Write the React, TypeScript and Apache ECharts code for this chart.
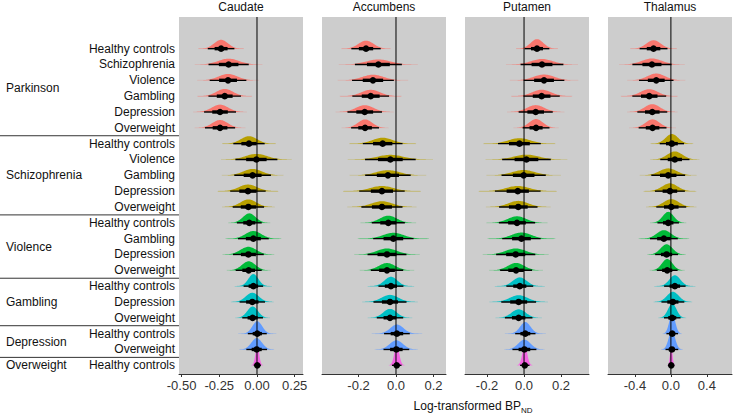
import React, { useEffect, useRef } from "react";
import * as echarts from "echarts";

const regions = ["Caudate", "Accumbens", "Putamen", "Thalamus"];
const groups = ["Parkinson", "Schizophrenia", "Violence", "Gambling", "Depression", "Overweight"];
const groupColors = ["#F8766D", "#B79F00", "#00BA38", "#00BFC4", "#619CFF", "#F564E3"];
const comparisons = [
  "Healthy controls", "Schizophrenia", "Violence", "Gambling", "Depression", "Overweight",
  "Healthy controls", "Violence", "Gambling", "Depression", "Overweight",
  "Healthy controls", "Gambling", "Depression", "Overweight",
  "Healthy controls", "Depression", "Overweight",
  "Healthy controls", "Overweight",
  "Healthy controls",
];
const rowGroup = [0, 0, 0, 0, 0, 0, 1, 1, 1, 1, 1, 2, 2, 2, 2, 3, 3, 3, 4, 4, 5];

// posterior means (log-transformed BPND difference)
const caudateMean = [-0.238, -0.188, -0.192, -0.214, -0.245, -0.245, -0.053, -0.004, -0.029, -0.06, -0.057, -0.051, -0.024, -0.057, -0.055, -0.024, -0.031, -0.029, 0.002, -0.002, 0.002];
const accumbensMean = [-0.16, -0.094, -0.123, -0.135, -0.167, -0.165, -0.071, -0.03, -0.043, -0.075, -0.075, -0.041, -0.014, -0.048, -0.048, -0.027, -0.032, -0.032, 0.005, 0.002, 0.004];
const putamenMean = [0.07, 0.097, 0.108, 0.095, 0.063, 0.065, -0.025, 0.013, -0.002, -0.034, -0.031, -0.038, -0.014, -0.045, -0.043, -0.023, -0.029, -0.029, 0.007, 0.002, 0.004];
const thalamusMean = [-0.193, -0.211, -0.163, -0.241, -0.207, -0.204, 0.011, 0.044, -0.03, -0.011, 0.004, -0.03, -0.078, -0.048, -0.041, 0.044, 0.022, 0.015, 0.015, 0.011, 0.004];

// posterior standard deviations
const caudateSd = [0.045, 0.068, 0.062, 0.055, 0.054, 0.051, 0.053, 0.071, 0.062, 0.06, 0.053, 0.042, 0.052, 0.052, 0.044, 0.033, 0.043, 0.035, 0.032, 0.035, 0.012];
const accumbensSd = [0.04, 0.064, 0.057, 0.05, 0.047, 0.038, 0.054, 0.069, 0.062, 0.062, 0.056, 0.045, 0.055, 0.053, 0.044, 0.034, 0.045, 0.036, 0.035, 0.035, 0.013];
const putamenSd = [0.034, 0.059, 0.056, 0.05, 0.047, 0.037, 0.059, 0.067, 0.061, 0.063, 0.053, 0.05, 0.053, 0.054, 0.044, 0.037, 0.048, 0.038, 0.028, 0.033, 0.013];
const thalamusSd = [0.079, 0.111, 0.098, 0.096, 0.085, 0.079, 0.069, 0.083, 0.096, 0.085, 0.085, 0.061, 0.079, 0.065, 0.059, 0.061, 0.065, 0.047, 0.033, 0.036, 0.013];

const means = [caudateMean, accumbensMean, putamenMean, thalamusMean];
const sds = [caudateSd, accumbensSd, putamenSd, thalamusSd];

const xMins = [-0.517, -0.395, -0.319, -0.7];
const xMaxs = [0.305, 0.267, 0.351, 0.68];
const caudateTicks = [-0.5, -0.25, 0, 0.25];
const accumbensTicks = [-0.2, 0, 0.2];
const putamenTicks = [-0.2, 0, 0.2];
const thalamusTicks = [-0.4, 0, 0.4];
const ticks = [caudateTicks, accumbensTicks, putamenTicks, thalamusTicks];
const tickDecimals = [2, 1, 1, 1];

const FONT = "'Liberation Sans', Arial, Helvetica, sans-serif";
const gridLefts = [179, 322, 465, 608];
const GRID_W = 124;
const GRID_TOP = 17;
const GRID_H = 357;
const Y_MIN = -0.55;
const Y_MAX = 22;
const NROW = comparisons.length;

export default function App() {
  const ref = useRef<HTMLDivElement>(null);
  useEffect(() => {
    const chart = echarts.init(ref.current!, null, { renderer: "svg" });
    const top = NROW - 1;

    const groupCenters = groups.map((_, g) => {
      const idx = rowGroup.map((rg, i) => (rg === g ? i : -1)).filter((i) => i >= 0);
      const mean = idx.reduce((a, b) => a + b, 0) / idx.length;
      return top - mean;
    });
    const separators: number[] = [];
    for (let i = 0; i < NROW - 1; i++) {
      if (rowGroup[i] !== rowGroup[i + 1]) separators.push(top - i - 0.5);
    }

    const slabRender = (params: any, api: any) => {
      const i = api.value(0) as number;
      const m = api.value(1) as number;
      const s = api.value(2) as number;
      const g = api.value(3) as number;
      const yv = top - i;
      const color = groupColors[g];
      const c0 = api.coord([m, yv]);
      const sdPx = Math.abs(api.size([s, 0])[0]);
      const h = Math.min(20, 60 / sdPx);
      const pts: number[][] = [];
      const N = 80;
      for (let k = 0; k <= N; k++) {
        const z = -4 + (8 * k) / N;
        const px = api.coord([m + z * s, yv])[0];
        pts.push([px, c0[1] - h * Math.exp(-0.5 * z * z)]);
      }
      const tl = api.coord([m - 3.3 * s, yv]);
      const tr = api.coord([m + 3.3 * s, yv]);
      return {
        type: "group",
        children: [
          {
            type: "line",
            shape: { x1: tl[0], y1: c0[1], x2: tr[0], y2: c0[1] },
            style: { stroke: color, lineWidth: 1, opacity: 0.22 },
          },
          { type: "polygon", shape: { points: pts }, style: { fill: color } },
        ],
      };
    };

    const intervalRender = (params: any, api: any) => {
      const i = api.value(0) as number;
      const m = api.value(1) as number;
      const s = api.value(2) as number;
      const yv = top - i;
      const c0 = api.coord([m, yv]);
      const a = api.coord([m - 1.96 * s, yv]);
      const b = api.coord([m + 1.96 * s, yv]);
      const c = api.coord([m - 0.954 * s, yv]);
      const d = api.coord([m + 0.954 * s, yv]);
      return {
        type: "group",
        children: [
          { type: "line", shape: { x1: a[0], y1: c0[1], x2: b[0], y2: c0[1] }, style: { stroke: "#000", lineWidth: 1.4 } },
          { type: "line", shape: { x1: c[0], y1: c0[1], x2: d[0], y2: c0[1] }, style: { stroke: "#000", lineWidth: 3.4 } },
          { type: "circle", shape: { cx: c0[0], cy: c0[1], r: 3.3 }, style: { fill: "#000" } },
        ],
      };
    };

    const grids = regions.map((_, r) => ({
      left: gridLefts[r],
      top: GRID_TOP,
      width: GRID_W,
      height: GRID_H,
      show: true,
      backgroundColor: "#CDCDCD",
      borderWidth: 0,
      containLabel: false,
    }));

    const xAxes = regions.map((_, r) => ({
      type: "value",
      gridIndex: r,
      min: xMins[r],
      max: xMaxs[r],
      splitLine: { show: false },
      axisLine: { show: true, onZero: false, lineStyle: { color: "#333", width: 1 } },
      axisTick: { show: true, length: 3, customValues: ticks[r], lineStyle: { color: "#333" } },
      axisLabel: {
        customValues: ticks[r],
        formatter: (v: number) => v.toFixed(tickDecimals[r]),
        fontSize: 13,
        color: "#333",
        margin: 5,
        fontFamily: FONT,
      },
    }));

    const yAxes: any[] = regions.map((_, r) => ({
      type: "value",
      gridIndex: r,
      min: Y_MIN,
      max: Y_MAX,
      splitLine: { show: false },
      axisLine: { show: false },
      axisTick: { show: false },
      axisLabel:
        r === 0
          ? {
              show: true,
              customValues: comparisons.map((_, i) => top - i),
              formatter: (v: number) => comparisons[top - Math.round(v)] ?? "",
              fontSize: 12,
              color: "#111",
              margin: 4,
              fontFamily: FONT,
            }
          : { show: false },
    }));
    yAxes.push({
      type: "value",
      gridIndex: 0,
      position: "left",
      min: Y_MIN,
      max: Y_MAX,
      splitLine: { show: false },
      axisLine: { show: false },
      axisTick: { show: false },
      axisLabel: {
        show: true,
        customValues: groupCenters,
        formatter: (v: number) => {
          let best = 0;
          groupCenters.forEach((c, g) => {
            if (Math.abs(c - v) < Math.abs(groupCenters[best] - v)) best = g;
          });
          return groups[best];
        },
        align: "left",
        fontSize: 12,
        color: "#111",
        margin: gridLefts[0] - 6,
        fontFamily: FONT,
      },
    });

    const series: any[] = [];
    regions.forEach((_, r) => {
      const data = comparisons.map((_, i) => [i, means[r][i], sds[r][i], rowGroup[i]]);
      const slabData = data.slice().reverse();
      series.push({
        type: "custom",
        xAxisIndex: r,
        yAxisIndex: r,
        renderItem: slabRender,
        data: slabData,
        z: 2,
        clip: true,
        silent: true,
      });
      series.push({
        type: "line",
        xAxisIndex: r,
        yAxisIndex: r,
        data: [
          [0, Y_MIN],
          [0, Y_MAX],
        ],
        symbol: "none",
        lineStyle: { color: "#000", width: 1 },
        z: 3,
        silent: true,
      });
      series.push({
        type: "custom",
        xAxisIndex: r,
        yAxisIndex: r,
        renderItem: intervalRender,
        data,
        z: 4,
        clip: false,
        silent: true,
      });
    });
    series.push({
      type: "custom",
      xAxisIndex: 0,
      yAxisIndex: 0,
      clip: false,
      silent: true,
      z: 5,
      data: separators.map((v) => [v]),
      renderItem: (params: any, api: any) => {
        const v = api.value(0) as number;
        const p = api.coord([xMins[0], v]);
        return {
          type: "line",
          shape: { x1: 0, y1: p[1], x2: p[0], y2: p[1] },
          style: { stroke: "#333", lineWidth: 1 },
        };
      },
    });

    const graphic: any[] = regions.map((name, r) => ({
      type: "text",
      x: gridLefts[r] + GRID_W / 2,
      y: 7,
      style: {
        text: name,
        fontSize: 12,
        fontFamily: FONT,
        fill: "#111",
        align: "center",
        verticalAlign: "middle",
      },
    }));
    graphic.push({
      type: "text",
      x: 473,
      y: 406,
      style: {
        text: "{a|Log-transformed BP}{b|ND}",
        align: "center",
        verticalAlign: "middle",
        fontFamily: FONT,
        fill: "#111",
        rich: {
          a: { fontSize: 12, lineHeight: 16, fontFamily: FONT, fill: "#111" },
          b: { fontSize: 8, lineHeight: 16, verticalAlign: "bottom", fontFamily: FONT, fill: "#111" },
        },
      },
    });

    chart.setOption({
      animation: false,
      backgroundColor: "#fff",
      grid: grids,
      xAxis: xAxes,
      yAxis: yAxes,
      series,
      graphic,
    });
    return () => chart.dispose();
  }, []);
  return (
    <div
      ref={ref}
      style={{ position: "absolute", left: 0, top: 0, width: 733, height: 414, background: "#fff" }}
    />
  );
}
